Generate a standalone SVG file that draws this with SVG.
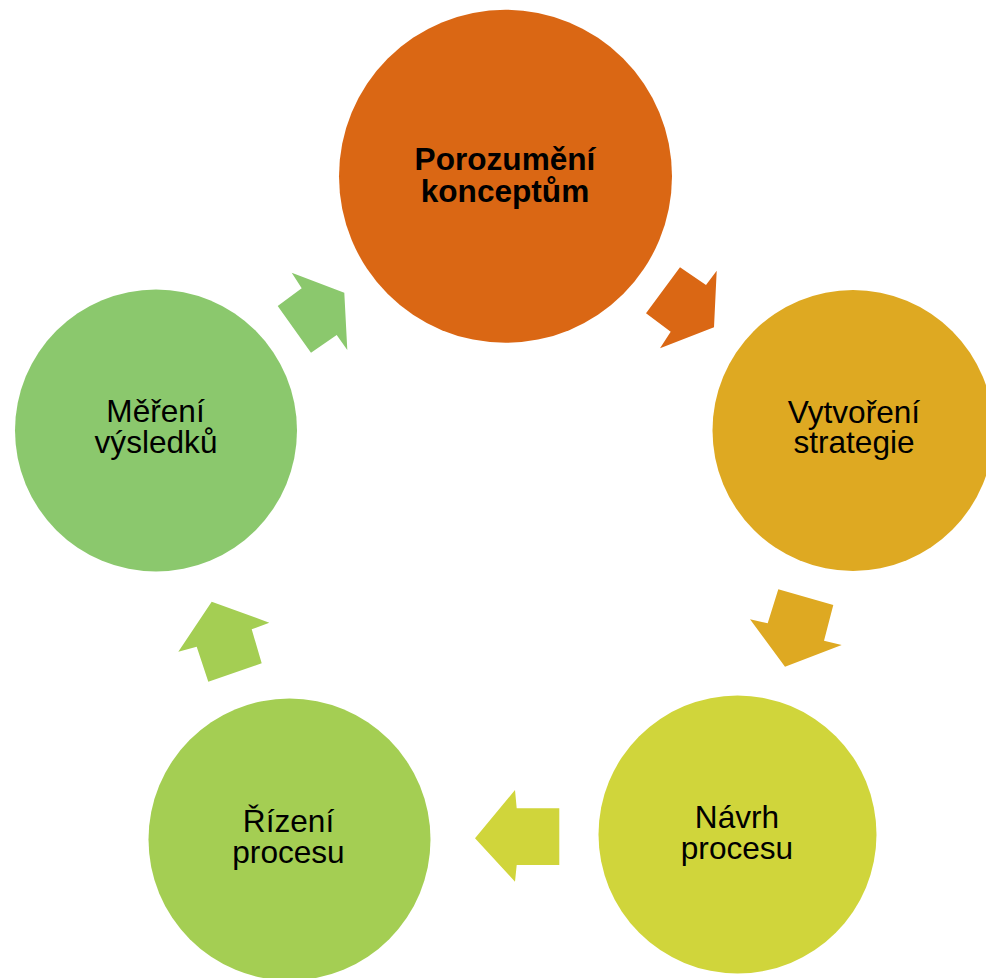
<svg xmlns="http://www.w3.org/2000/svg" width="986" height="978" viewBox="0 0 986 978">
<style>
text{font-family:"Liberation Sans",Arial,sans-serif;font-size:31.6px;fill:#000;text-anchor:middle}
.b{font-weight:bold}
</style>
<rect width="986" height="978" fill="#fff"/>
<g id="connectors">
<polygon fill="#DA6714" points="680,267.3 706,285 716.7,270.7 714,327.3 660,348.3 670.7,331.7 646,313.3"/>
<polygon fill="#DEA922" points="778.3,589.3 833.3,605 824,640.7 841.7,645 785,666.7 750,619.3 767.7,623.3"/>
<polygon fill="#D0D53B" points="515,790 516.7,808.3 559.3,808.3 559.3,865 516.7,865 515,881.7 475,838.3"/>
<polygon fill="#A4CE53" points="211.7,601.7 269.3,622.7 251.7,629.3 261.7,663.3 208.3,681.7 196.7,646.7 178.3,651.7"/>
<polygon fill="#8BC86D" points="291.7,272.7 344.3,292.7 347.3,350 336.7,335 311,352.7 277.7,306 301.7,288.3"/>
</g>
<g id="node-porozumeni">
<circle cx="505.5" cy="176.3" r="166.5" fill="#DA6714"/>
<text class="b" x="505" y="169.5">Porozumění</text>
<text class="b" x="505" y="201.5">konceptům</text>
</g>
<g id="node-vytvoreni">
<circle cx="853" cy="430.5" r="140.5" fill="#DEA922"/>
<text x="854" y="423.3">Vytvoření</text>
<text x="854" y="453.3">strategie</text>
</g>
<g id="node-navrh">
<circle cx="737.5" cy="834.5" r="139" fill="#D0D53B"/>
<text x="737" y="828.3">Návrh</text>
<text x="737" y="858.5">procesu</text>
</g>
<g id="node-rizeni">
<circle cx="289.5" cy="839.5" r="141" fill="#A4CE53"/>
<text x="288.5" y="832.3">Řízení</text>
<text x="288.5" y="863.3">procesu</text>
</g>
<g id="node-mereni">
<circle cx="156" cy="430.5" r="141" fill="#8BC86D"/>
<text x="155.5" y="422.3">Měření</text>
<text x="156" y="453.3">výsledků</text>
</g>
</svg>
